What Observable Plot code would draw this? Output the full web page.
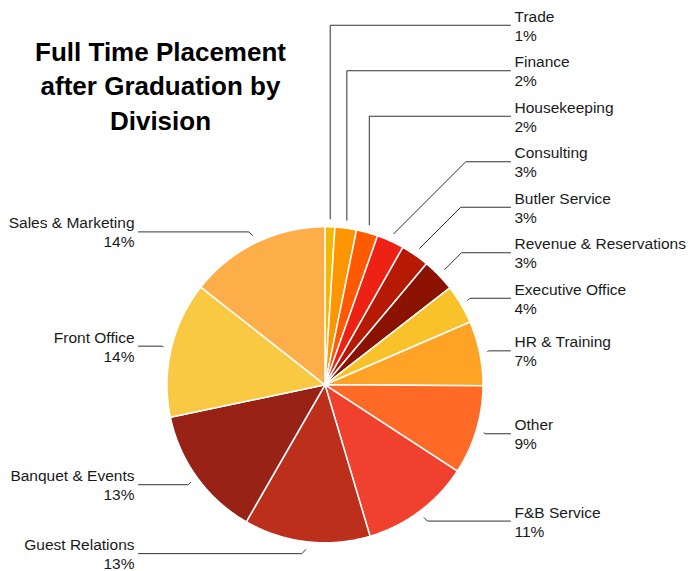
<!DOCTYPE html>
<html><head><meta charset="utf-8">
<script src="https://cdn.jsdelivr.net/npm/d3@7"></script>
<script src="https://cdn.jsdelivr.net/npm/@observablehq/plot@0.6"></script>
<style>body{margin:0;background:#fff} svg{display:block}</style>
</head><body><div id="chart"></div>
<script>
// ---- data ----
const divisions = ["Trade","Finance","Housekeeping","Consulting","Butler Service","Revenue & Reservations","Executive Office","HR & Training","Other","F&B Service","Guest Relations","Banquet & Events","Front Office","Sales & Marketing"];
const shares = [1.0,2.2,2.2,2.8,2.9,3.4,4.0,6.6,9.1,11.2,12.9,13.4,13.9,14.4];
const colors = ["#f5b800","#ff9500","#ff5a00","#ee2214","#b61a04","#8b1100","#f9c22a","#fea326","#ff6a26","#f0412e","#bc2f1b","#982216","#f9c944","#fdae48"];
const titleLines = ["Full Time Placement","after Graduation by","Division"];

// ---- layout ----
const W = 694, H = 571, cx = 324.5, cy = 384.3, R = 158;
const font = "Helvetica, 'Liberation Sans', Arial, sans-serif";
const total = d3.sum(shares);
const arcs = d3.pie().sort(null).value(d => d)(shares);
const polar = (r, a) => ({x: cx + r * Math.sin(a), y: cy - r * Math.cos(a)});

const sliceData = [];
arcs.forEach((p, i) => {
  const n = Math.max(2, Math.ceil((p.endAngle - p.startAngle) / (Math.PI / 360)));
  sliceData.push({k: i, x: cx, y: cy, c: colors[i]});
  for (let j = 0; j <= n; j++) {
    const a = p.startAngle + (p.endAngle - p.startAngle) * j / n;
    sliceData.push({k: i, ...polar(R, a), c: colors[i]});
  }
  sliceData.push({k: i, x: cx, y: cy, c: colors[i]});
});

const labels = arcs.map((p, i) => {
  const mid = (p.startAngle + p.endAngle) / 2;
  const s = polar(R + 8, mid);
  return {i, mid, side: Math.sin(mid) >= 0 ? 1 : -1, s, ly: polar(R + 12, mid).y,
          name: divisions[i], pct: Math.round(shares[i] / total * 100) + "%"};
});
const right = labels.filter(d => d.side > 0).sort((a, b) => a.mid - b.mid);
const left = labels.filter(d => d.side < 0).sort((a, b) => b.mid - a.mid);
const gap = 45.5;
for (let k = right.length - 2; k >= 0; k--) right[k].ly = Math.min(right[k].ly, right[k + 1].ly - gap);
for (let k = 1; k < left.length; k++) left[k].ly = Math.max(left[k].ly, left[k - 1].ly + gap);

const leaderData = [];
labels.forEach(d => {
  const dy = d.ly - d.s.y;
  const endX = d.side > 0 ? 510 : 138;
  leaderData.push({k: d.i, x: d.s.x, y: d.s.y});
  if (Math.abs(dy) > 0.5) {
    const ex = Math.abs(dy) <= 90 ? d.s.x + d.side * Math.abs(dy) : d.s.x;
    leaderData.push({k: d.i, x: ex, y: d.ly});
  }
  leaderData.push({k: d.i, x: endX, y: d.ly});
});

const labelFont = 15.5;
const textMarks = (data, x, anchor) => [
  Plot.text(data, {x: () => x, y: d => d.ly - 3.5, text: "name", textAnchor: anchor, lineAnchor: "bottom", fontSize: labelFont, fill: "#1a1a1a"}),
  Plot.text(data, {x: () => x, y: d => d.ly + 15.5, text: "pct", textAnchor: anchor, lineAnchor: "bottom", fontSize: labelFont, fill: "#1a1a1a"})
];

const chart = Plot.plot({
  width: W, height: H, margin: 0,
  x: {type: "identity", axis: null}, y: {type: "identity", axis: null}, color: {type: "identity"},
  style: {fontFamily: font, background: "#fff"},
  marks: [
    Plot.line(sliceData, {x: "x", y: "y", z: "k", fill: "c", stroke: "white", strokeWidth: 1.5, curve: "linear"}),
    Plot.line(leaderData, {x: "x", y: "y", z: "k", stroke: "#333", strokeWidth: 1, curve: "linear", strokeLinejoin: "miter"}),
    ...textMarks(right, 514, "start"),
    ...textMarks(left, 134, "end"),
    Plot.text(titleLines, {x: () => 160, y: (d, i) => 60 + i * 34.5, text: d => d, textAnchor: "middle", lineAnchor: "bottom", fontSize: 26, fontWeight: "bold", fill: "#000"})
  ]
});
document.getElementById("chart").appendChild(chart);
</script>
</body></html>
